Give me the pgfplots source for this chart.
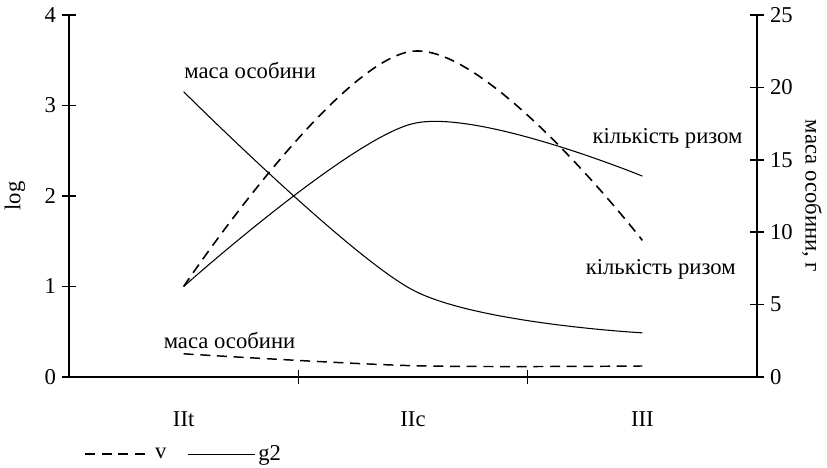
\documentclass[border=0pt]{standalone}
\usepackage{pgfplots}
\pgfplotsset{compat=1.18}
\usepackage{fontspec}
\setmainfont{Liberation Serif}

\newcommand{\fs}{\fontsize{17pt}{20pt}\selectfont}

\pgfplotsset{
  base/.style={
    scale only axis, width=516pt, height=271.5pt,
    xmin=-0.5, xmax=2.5,
    /pgf/number format/assume math mode=true,
    tick align=center, major tick length=10.5pt, minor tick length=10.5pt,
    tick style={black, line width=1.1pt},
    axis line style={line width=1.2pt},
    every tick label/.append style={font=\fs},
    label style={font=\fs},
  },
  vline/.style={black, line width=1.2pt, dash pattern=on 7.5pt off 5pt},
  gline/.style={black, line width=0.8pt},
}

\begin{document}
\begin{tikzpicture}[font=\fs]
% left axis: number of rhizomes (log)
\begin{axis}[base,
  ymin=0, ymax=4, ytick={0,1,2,3,4},
  axis x line*=bottom, axis y line*=left,
  xtick={0,1,2}, xticklabels={IIt,IIc,III},
  major x tick style={draw=none},
  minor xtick={0.5,1.5},
  xticklabel style={yshift=-17pt},
  yticklabel style={xshift=-1pt},
  ylabel={log},
  ylabel style={at={(axis description cs:-0.0785,0.5)}, anchor=center},
  legend style={at={(axis description cs:0.016,-0.213)}, anchor=west,
    draw=none, fill=none, font=\fs, legend columns=2,
    /tikz/every even column/.append style={column sep=14pt}},
  legend image code/.code={\draw[#1] (0pt,0pt) -- (50pt,0pt);},
  clip=false,
]
\addplot[vline, smooth, tension=0.6] coordinates {(0,1.00) (1,3.60) (2,1.51)};
\addlegendentry{v}
\addplot[gline, smooth] coordinates {(0,1.00) (1,2.80) (2,2.22)};
\addlegendentry{g2}

\node at (axis cs:0.29,3.39) {маса особини};
\node at (axis cs:2.11,2.64) {кількість ризом};
\node at (axis cs:2.08,1.19) {кількість ризом};
\node at (axis cs:0.20,0.40) {маса особини};
\end{axis}

% right axis: individual mass, g
\begin{axis}[base,
  ymin=0, ymax=25, ytick={0,5,...,25},
  axis x line=none, axis y line*=right,
  yticklabel style={xshift=1pt},
  ylabel={маса особини, г},
  ylabel style={at={(axis description cs:1.08,0.5)}, anchor=center, rotate=180},
]
\addplot[vline, line width=1.1pt, smooth] coordinates {(0,1.60) (1,0.78) (2,0.76)};
\addplot[gline, smooth] coordinates {(0,19.7) (1,6.0) (2,3.05)};
\end{axis}

\pgfresetboundingbox
\path[use as bounding box] (-51.75pt,-67.5pt) rectangle (568.5pt,11.25pt+271.5pt);
\end{tikzpicture}
\end{document}
